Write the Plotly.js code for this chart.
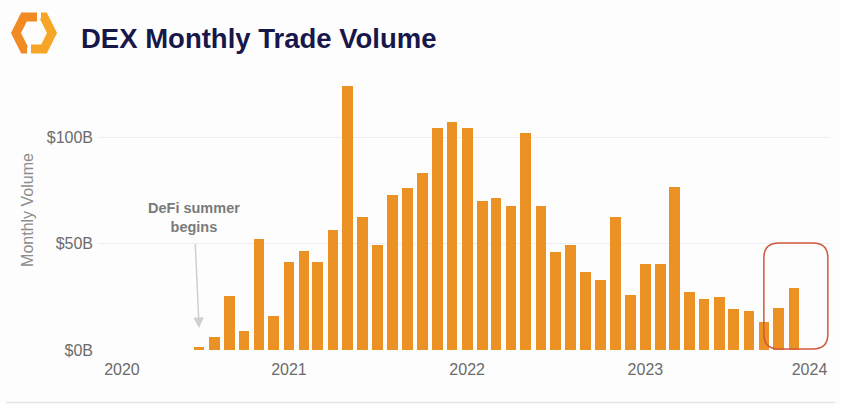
<!DOCTYPE html>
<html>
<head>
<meta charset="utf-8">
<script src="https://cdn.plot.ly/plotly-3.0.1.min.js"></script>
<style>
  html, body { margin: 0; padding: 0; background: #fdfdfd; }
  #dex-volume { width: 841px; height: 404px; }
</style>
</head>
<body>
<div id="dex-volume"></div>
<script>
// monthly DEX volume, $B
const months = [
  '2020-07-01', '2020-08-01', '2020-09-01', '2020-10-01', '2020-11-01', '2020-12-01',
  '2021-01-01', '2021-02-01', '2021-03-01', '2021-04-01', '2021-05-01', '2021-06-01',
  '2021-07-01', '2021-08-01', '2021-09-01', '2021-10-01', '2021-11-01', '2021-12-01',
  '2022-01-01', '2022-02-01', '2022-03-01', '2022-04-01', '2022-05-01', '2022-06-01',
  '2022-07-01', '2022-08-01', '2022-09-01', '2022-10-01', '2022-11-01', '2022-12-01',
  '2023-01-01', '2023-02-01', '2023-03-01', '2023-04-01', '2023-05-01', '2023-06-01',
  '2023-07-01', '2023-08-01', '2023-09-01', '2023-10-01', '2023-11-01'
];
const volume = [
  1.5, 6.2, 25.4, 8.9, 52.3, 16.0,
  41.5, 46.6, 41.5, 56.2, 124.0, 62.6,
  49.2, 72.8, 75.9, 83.0, 104.1, 107.2,
  104.1, 70.1, 71.5, 67.6, 101.7, 67.6,
  45.9, 49.3, 36.8, 33.0, 62.6, 26.0,
  40.2, 40.2, 76.7, 27.4, 24.1, 24.7,
  19.1, 18.5, 13.1, 19.6, 29.3
];
const yTicks = [0, 50, 100];
const yTickText = ['$0B', '$50B', '$100B'];
// edge years are nudged inside the plot, as in the original
const yearTicks = ['2020-01-25', '2021-01-01', '2022-01-01', '2023-01-01', '2023-12-03'];
const yearLabels = ['2020', '2021', '2022', '2023', '2024'];

const DAY = 86400000;
const ORANGE = '#ec9224';

// rounded box path in pixels, y up
function roundBox(x0, y0, x1, y1, r) {
  return 'M' + (x0 + r) + ',' + y0 +
    ' L' + (x1 - r) + ',' + y0 + ' Q' + x1 + ',' + y0 + ' ' + x1 + ',' + (y0 + r) +
    ' L' + x1 + ',' + (y1 - r) + ' Q' + x1 + ',' + y1 + ' ' + (x1 - r) + ',' + y1 +
    ' L' + (x0 + r) + ',' + y1 + ' Q' + x0 + ',' + y1 + ' ' + x0 + ',' + (y1 - r) +
    ' L' + x0 + ',' + (y0 + r) + ' Q' + x0 + ',' + y0 + ' ' + (x0 + r) + ',' + y0 + ' Z';
}

// logo: hexagon ring cut in two, pixels relative to the plot's top-left corner
function logoPiece(pts) {
  return 'M' + pts.map(p => (p[0] - 98) + ',' + (70 - p[1])).join(' L');
}

const trace = {
  type: 'bar',
  x: months,
  y: volume,
  width: 21.9 * DAY,
  marker: {color: ORANGE},
  hoverinfo: 'x+y'
};

const layout = {
  width: 841,
  height: 404,
  margin: {l: 98, r: 11, t: 70, b: 54},
  paper_bgcolor: '#fdfdfd',
  plot_bgcolor: '#fdfdfd',
  showlegend: false,
  bargap: 0,
  font: {family: 'Liberation Sans, Arial, sans-serif', color: '#6b6b6b'},
  title: {
    text: '<b>DEX Monthly Trade Volume</b>',
    font: {size: 27.5, color: '#17174a', family: 'Liberation Sans, Arial, sans-serif'},
    xref: 'container', yref: 'container',
    x: 81 / 841, xanchor: 'left',
    y: 1 - 38 / 404, yanchor: 'middle'
  },
  xaxis: {
    type: 'date',
    range: ['2019-12-07', '2024-01-14'],
    tickvals: yearTicks,
    ticktext: yearLabels,
    showgrid: false,
    zeroline: false,
    showline: false,
    ticks: '',
    ticklabelstandoff: 8,
    tickfont: {size: 16, color: '#6b6b6b'}
  },
  yaxis: {
    range: [0, 131.5],
    tickvals: yTicks,
    ticktext: yTickText,
    gridcolor: '#eeeff4',
    gridwidth: 1,
    zeroline: false,
    showline: false,
    ticks: '',
    ticklabelstandoff: 4,
    tickfont: {size: 16, color: '#6b6b6b'},
    title: {text: 'Monthly Volume', font: {size: 16, color: '#8c8c8c'}, standoff: 9}
  },
  annotations: [
    {
      x: '2020-07-01', y: 10.3,
      ax: -5, ay: -111,
      text: '<b>DeFi summer<br>begins</b>',
      font: {size: 14.5, color: '#7a7a7a'},
      showarrow: true,
      arrowhead: 2,
      arrowsize: 1.4,
      arrowwidth: 1.5,
      arrowcolor: '#cfcfcf',
      borderpad: 9
    }
  ],
  shapes: [
    // highlight around the last months
    {
      type: 'path',
      xref: 'x', yref: 'y',
      xsizemode: 'pixel', ysizemode: 'pixel',
      xanchor: '2023-11-01', yanchor: 0,
      path: roundBox(-30, 1, 34, 107, 15),
      line: {color: '#d2583c', width: 1.5}
    },
    // logo
    {
      type: 'path', xref: 'paper', yref: 'paper',
      xsizemode: 'pixel', ysizemode: 'pixel', xanchor: 0, yanchor: 1,
      path: logoPiece([[37, 17], [24, 17], [16, 33], [24, 49], [27, 49]]),
      line: {color: '#f28a23', width: 9}
    },
    {
      type: 'path', xref: 'paper', yref: 'paper',
      xsizemode: 'pixel', ysizemode: 'pixel', xanchor: 0, yanchor: 1,
      path: logoPiece([[41, 17], [44, 17], [52, 33], [44, 49], [31, 49]]),
      line: {color: '#f6a527', width: 9}
    },
    // faint rule at the bottom
    {
      type: 'line', xref: 'paper', yref: 'paper',
      xsizemode: 'pixel', ysizemode: 'pixel', xanchor: 0, yanchor: 0,
      x0: -92, x1: 737, y0: -52.5, y1: -52.5,
      line: {color: '#e6e6e6', width: 1.5}
    }
  ]
};

Plotly.newPlot('dex-volume', [trace], layout, {displayModeBar: false, staticPlot: true});
</script>
</body>
</html>
